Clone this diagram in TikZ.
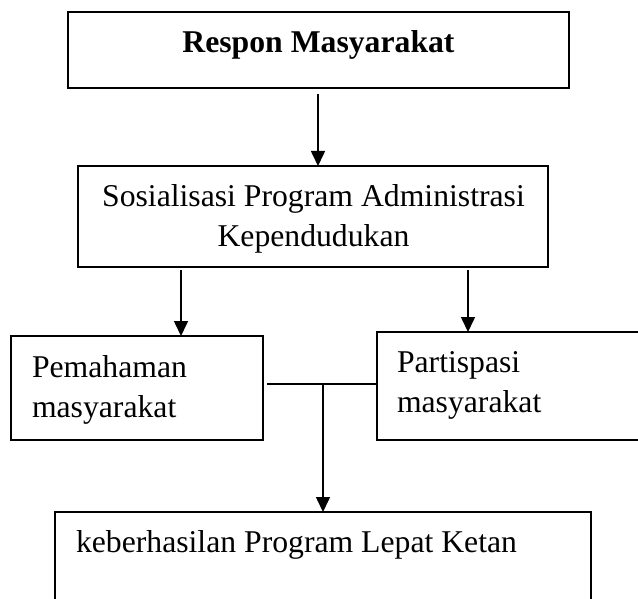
\documentclass[tikz,border=0pt]{standalone}
\usepackage{fontspec}
\setmainfont{Liberation Serif}
\usetikzlibrary{arrows.meta}
\begin{document}
\begin{tikzpicture}[x=1pt,y=-1pt,
  box/.style={draw=black, line width=1.3pt, inner sep=0pt, outer sep=0pt},
  txt/.style={font=\fontsize{31.7}{40}\selectfont, inner sep=0pt, outer sep=0pt},
  arr/.style={-{Triangle[length=15pt,width=14pt]}, line width=1.6pt},
  conn/.style={line width=1.4pt}]
\useasboundingbox (0,0) rectangle (638,599);
\clip (0,0) rectangle (638,599);
% boxes
\node[box, minimum width=501pt, minimum height=76pt] (b1) at (318.5,50) {};
\node[box, minimum width=470pt, minimum height=101pt] (b2) at (313,216.5) {};
\node[box, minimum width=252pt, minimum height=104pt] (b3) at (137,388) {};
\node[box, minimum width=263pt, minimum height=108pt] (b4) at (508.5,386) {};
\node[box, minimum width=536pt, minimum height=128pt] (b5) at (323,576) {};
% texts
\node[txt, anchor=base] (t1) at (318.5,53) {\textbf{Respon Masyarakat}};
\node[txt, anchor=base] (t2a) at (313.5,207) {Sosialisasi Program Administrasi};
\node[txt, anchor=base] (t2b) at (313.5,247) {Kependudukan};
\node[txt, anchor=base west] (t3a) at (32,377) {Pemahaman};
\node[txt, anchor=base west] (t3b) at (32,417) {masyarakat};
\node[txt, anchor=base west] (t4a) at (397,372) {Partispasi};
\node[txt, anchor=base west] (t4b) at (397,412) {masyarakat};
\node[txt, anchor=base west] (t5) at (76,552) {keberhasilan Program Lepat Ketan};
% connectors
\coordinate (l1) at ([xshift=-0.5pt,yshift=-6pt]b1.south);
\draw[arr] (l1) -- (l1 |- b2.north);
\coordinate (l3) at ([xshift=44pt]b3.north);
\coordinate (l4) at ([xshift=-40.5pt]b4.north);
\draw[arr] ([yshift=-3pt]b2.south -| l3) -- (l3);
\draw[arr] ([yshift=-3pt]b2.south -| l4) -- (l4);
\coordinate (j) at (323,384);
\draw[conn] ([xshift=4pt]b3.east |- j) -- (b4.west |- j);
\draw[arr] (j) -- (b5.north -| j);
\end{tikzpicture}
\end{document}
